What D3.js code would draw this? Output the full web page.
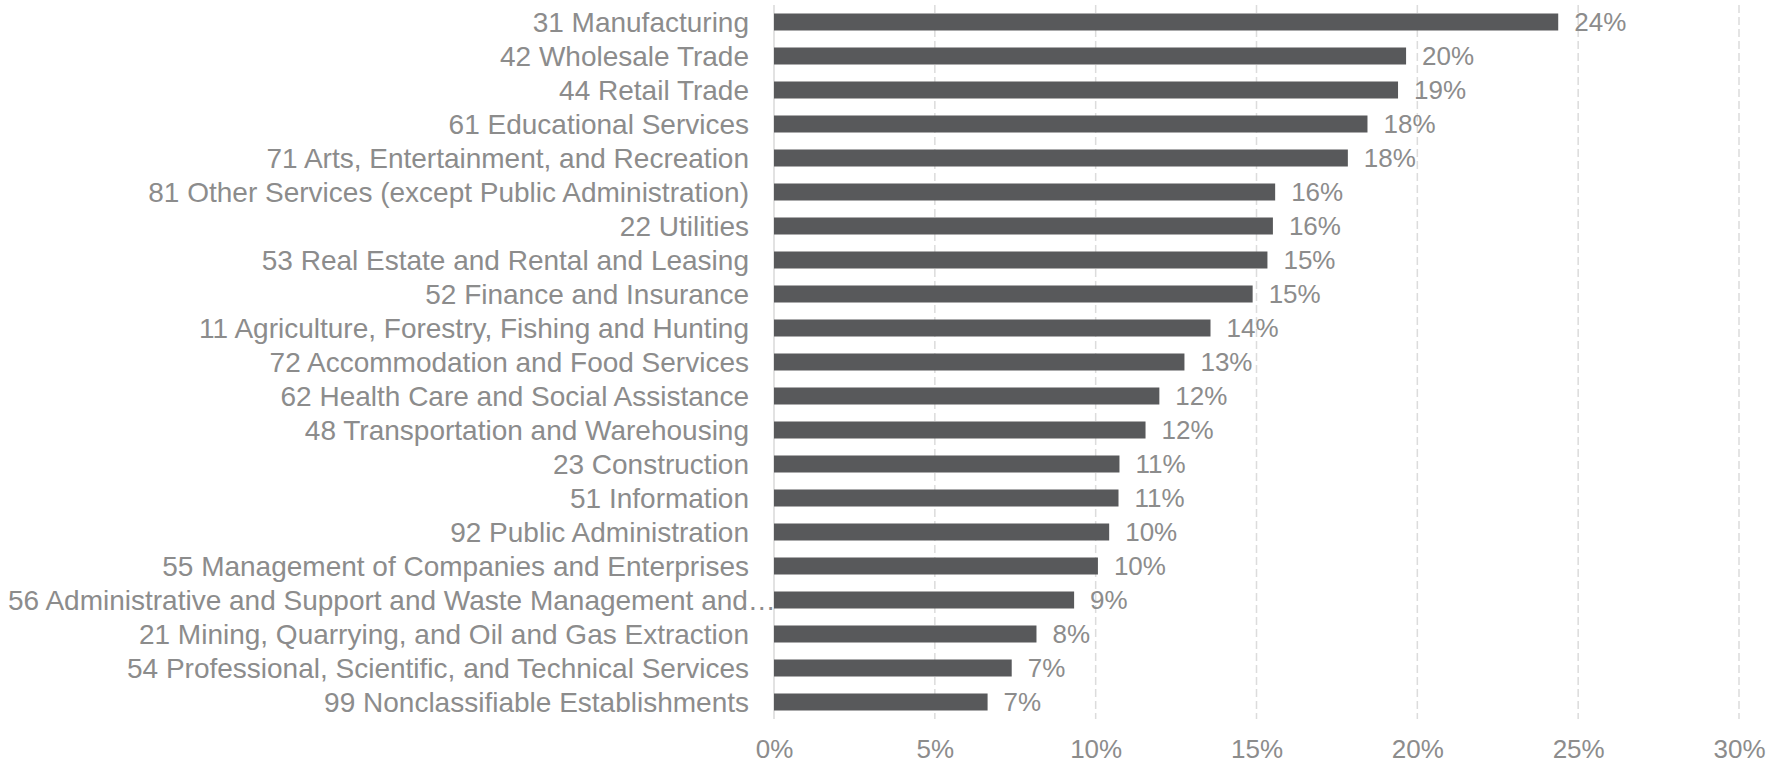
<!DOCTYPE html>
<html>
<head>
  <meta charset="utf-8">
  <title>Share by Industry</title>
  <style>
    body { margin: 0; background: #ffffff; }
    svg text { font-family: "Liberation Sans", Arial, sans-serif; fill: #8c8c8c; }
    .grid line { stroke: #dcdcdc; stroke-width: 1.5; stroke-dasharray: 8,4; }
    .bar { fill: #58595b; }
  </style>
</head>
<body>
  <script src="https://d3js.org/d3.v7.min.js"></script>
  <script>
    // data
    var industries = [
      "31 Manufacturing",
      "42 Wholesale Trade",
      "44 Retail Trade",
      "61 Educational Services",
      "71 Arts, Entertainment, and Recreation",
      "81 Other Services (except Public Administration)",
      "22 Utilities",
      "53 Real Estate and Rental and Leasing",
      "52 Finance and Insurance",
      "11 Agriculture, Forestry, Fishing and Hunting",
      "72 Accommodation and Food Services",
      "62 Health Care and Social Assistance",
      "48 Transportation and Warehousing",
      "23 Construction",
      "51 Information",
      "92 Public Administration",
      "55 Management of Companies and Enterprises",
      "56 Administrative and Support and Waste Management and\u2026",
      "21 Mining, Quarrying, and Oil and Gas Extraction",
      "54 Professional, Scientific, and Technical Services",
      "99 Nonclassifiable Establishments"
    ];
    var shares = [0.2438, 0.1965, 0.1940, 0.1845, 0.1784, 0.1558, 0.1551, 0.1534,
                  0.1488, 0.1357, 0.1276, 0.1198, 0.1155, 0.1074, 0.1071, 0.1042,
                  0.1007, 0.0933, 0.0816, 0.0739, 0.0664];
    var xTicks = [0, 0.05, 0.10, 0.15, 0.20, 0.25, 0.30];

    var data = industries.map(function(name, i) { return {name: name, share: shares[i]}; });

    // dimensions
    var W = 1782, H = 764;
    var margin = {top: 5, right: 43, bottom: 45, left: 774};
    var width = W - margin.left - margin.right,
        height = H - margin.top - margin.bottom;

    var svg = d3.select("body").append("svg")
        .attr("width", W)
        .attr("height", H)
      .append("g")
        .attr("transform", "translate(" + margin.left + "," + margin.top + ")");

    var x = d3.scaleLinear().domain([0, 0.30]).range([0, width]);
    var y = d3.scaleBand()
        .domain(industries)
        .range([0, height])
        .paddingInner(0.5)
        .paddingOuter(0.25);

    // dashed vertical gridlines
    svg.append("g")
        .attr("class", "grid")
      .selectAll("line")
      .data(xTicks.slice(1))
      .enter().append("line")
        .attr("x1", function(d) { return x(d); })
        .attr("x2", function(d) { return x(d); })
        .attr("y1", 0)
        .attr("y2", height);

    // solid zero line
    svg.append("line")
        .attr("x1", x(0)).attr("x2", x(0))
        .attr("y1", 0).attr("y2", height)
        .attr("stroke", "#d9d9d9")
        .attr("stroke-width", 1.5);

    // x axis labels
    var xAxis = svg.append("g")
        .attr("transform", "translate(0," + height + ")")
        .call(d3.axisBottom(x).tickValues(xTicks).tickFormat(d3.format(".0%")).tickSize(0).tickPadding(21));
    xAxis.select(".domain").remove();
    xAxis.selectAll("text")
        .attr("fill", null)
        .style("font-size", "26px");

    // category labels
    var labels = svg.append("g")
      .selectAll("text")
      .data(data)
      .enter().append("text")
        .attr("x", -25)
        .attr("y", function(d) { return y(d.name) + y.bandwidth() / 2; })
        .attr("dy", "0.35em")
        .style("font-size", "28px")
        .style("text-anchor", "end")
        .text(function(d) { return d.name; });

    // labels too wide for the margin start from the left edge instead
    labels.each(function() {
      var t = d3.select(this);
      if (this.getComputedTextLength() > margin.left - 33) {
        t.attr("x", 8 - margin.left).style("text-anchor", "start");
      }
    });

    // bars
    svg.selectAll(".bar")
      .data(data)
      .enter().append("rect")
        .attr("class", "bar")
        .attr("x", x(0))
        .attr("y", function(d) { return y(d.name); })
        .attr("width", function(d) { return x(d.share) - x(0); })
        .attr("height", y.bandwidth());

    // value labels
    svg.selectAll(".value")
      .data(data)
      .enter().append("text")
        .attr("class", "value")
        .attr("x", function(d) { return x(d.share) + 16; })
        .attr("y", function(d) { return y(d.name) + y.bandwidth() / 2; })
        .attr("dy", "0.35em")
        .style("font-size", "26px")
        .text(function(d) { return d3.format(".0%")(d.share); });
  </script>
</body>
</html>
